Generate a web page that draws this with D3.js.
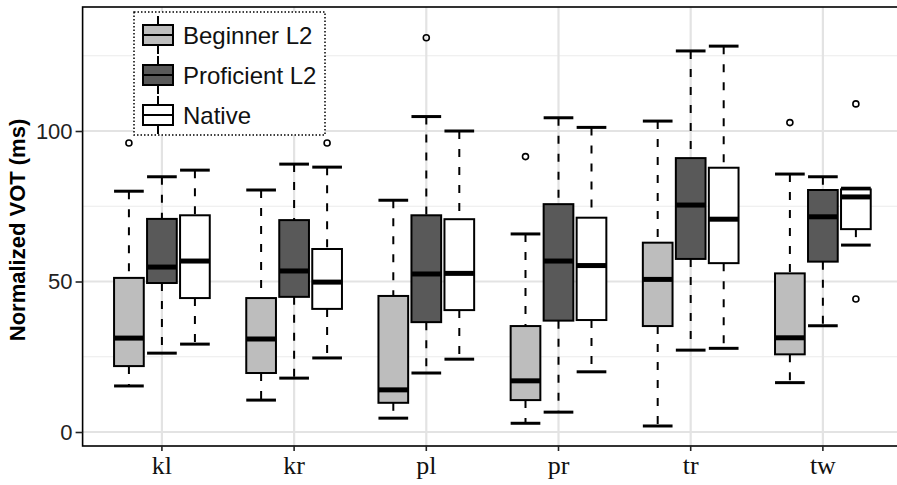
<!DOCTYPE html>
<html><head><meta charset="utf-8">
<script src="https://cdn.jsdelivr.net/npm/d3@7"></script>
<style>body{margin:0;background:#fff}svg{display:block}</style>
</head><body><svg id="c" width="897" height="485"></svg>
<script>
const categories = ["kl","kr","pl","pr","tr","tw"];
const groups = ["Beginner L2","Proficient L2","Native"];
// [lower whisker, Q1, median, Q3, upper whisker] per category
const beginnerStats   = [[15.3,21.9,31.2,51.2,80.0],[10.6,19.6,30.9,44.5,80.4],[4.6,9.7,14.0,45.2,77.0],[2.9,10.6,17.0,35.2,65.8],[2.0,35.2,50.7,62.9,103.3],[16.4,25.8,31.3,52.7,85.7]];
const proficientStats = [[26.2,49.5,54.8,70.8,84.8],[17.9,44.9,53.5,70.4,89.0],[19.6,36.5,52.5,72.0,104.8],[6.6,37.0,56.8,75.7,104.4],[27.2,57.5,75.4,91.0,126.6],[35.3,56.6,71.5,80.4,84.8]];
const nativeStats     = [[29.2,44.5,56.8,72.0,87.0],[24.6,40.9,49.8,60.8,88.0],[24.2,40.5,52.7,70.7,100.0],[20.0,37.2,55.3,71.2,101.2],[27.8,56.1,70.7,87.8,128.2],[62.1,67.4,78.1,80.6,81.0]];
const beginnerOutliers   = [[96],[],[],[91.5],[],[102.8]];
const proficientOutliers = [[],[],[131],[],[],[]];
const nativeOutliers     = [[],[96],[],[],[],[109,44.2]];
const yTicks = [0,50,100];
const yMinor = [25,75,125];
const fills = ["#bdbdbd","#595959","#ffffff"];

const stats = [beginnerStats, proficientStats, nativeStats];
const outs = [beginnerOutliers, proficientOutliers, nativeOutliers];

const L = 82.6, R = 902.2, T = 7, B = 446;
const svg = d3.select("#c");
const x = d3.scaleBand().domain(categories).range([L, R]).paddingInner(0).paddingOuter(0.1);
const xg = d3.scaleBand().domain(groups).range([-49.5, 49.5]).paddingInner(0.1).paddingOuter(0.05);
const y = d3.scaleLinear().domain([-4.65, 141.2]).range([B, T]);
const cx = c => x(c) + x.bandwidth()/2;

// grid
const grid = svg.append("g");
grid.selectAll(".mn").data(yMinor).join("line").attr("x1",L).attr("x2",R)
  .attr("y1",d=>y(d)).attr("y2",d=>y(d)).attr("stroke","#ebebeb").attr("stroke-width",1.2);
grid.selectAll(".mj").data(yTicks).join("line").attr("x1",L).attr("x2",R)
  .attr("y1",d=>y(d)).attr("y2",d=>y(d)).attr("stroke","#e3e3e3").attr("stroke-width",2.2);
grid.selectAll(".vx").data(categories).join("line").attr("y1",T).attr("y2",B)
  .attr("x1",d=>cx(d)).attr("x2",d=>cx(d)).attr("stroke","#e3e3e3").attr("stroke-width",2.2);

// boxes
const bw = xg.bandwidth();
groups.forEach((g, gi) => {
  categories.forEach((c, ci) => {
    const [lo,q1,md,q3,hi] = stats[gi][ci];
    const xc = cx(c) + xg(g) + bw/2;
    const gg = svg.append("g");
    gg.append("line").attr("x1",xc).attr("x2",xc).attr("y1",y(hi)).attr("y2",y(q3))
      .attr("stroke","#000").attr("stroke-width",2).attr("stroke-dasharray","8,10");
    gg.append("line").attr("x1",xc).attr("x2",xc).attr("y1",y(q1)).attr("y2",y(lo))
      .attr("stroke","#000").attr("stroke-width",2).attr("stroke-dasharray","8,10");
    [hi, lo].forEach(v => gg.append("line").attr("x1",xc-bw/2).attr("x2",xc+bw/2)
      .attr("y1",y(v)).attr("y2",y(v)).attr("stroke","#000").attr("stroke-width",3));
    gg.append("rect").attr("x",xc-bw/2).attr("width",bw).attr("y",y(q3)).attr("height",y(q1)-y(q3))
      .attr("fill",fills[gi]).attr("stroke","#000").attr("stroke-width",2);
    gg.append("line").attr("x1",xc-bw/2).attr("x2",xc+bw/2).attr("y1",y(md)).attr("y2",y(md))
      .attr("stroke","#000").attr("stroke-width",5);
    outs[gi][ci].forEach(v => gg.append("circle").attr("cx",xc).attr("cy",y(v)).attr("r",3)
      .attr("fill","none").attr("stroke","#000").attr("stroke-width",1.6));
  });
});

// panel border
svg.append("rect").attr("x",L).attr("y",T).attr("width",R-L).attr("height",B-T)
  .attr("fill","none").attr("stroke","#000").attr("stroke-width",1.6);

// y axis
const ya = svg.append("g").attr("transform",`translate(${L},0)`)
  .call(d3.axisLeft(y).tickValues(yTicks).tickSize(7).tickPadding(3));
ya.select(".domain").remove();
ya.selectAll(".tick line").attr("stroke","#222").attr("stroke-width",1.6);
ya.selectAll(".tick text").attr("font-family","Liberation Sans, Arial, sans-serif").attr("font-size",22).attr("fill","#222");

// x axis
const xa = svg.append("g").attr("transform",`translate(0,${B})`)
  .call(d3.axisBottom(x).tickSize(5).tickPadding(5));
xa.select(".domain").remove();
xa.selectAll(".tick line").attr("stroke","#222").attr("stroke-width",1.6);
xa.selectAll(".tick text").attr("font-family","Liberation Serif, Times New Roman, serif").attr("font-size",26).attr("fill","#111");

// y title
svg.append("text").attr("transform",`translate(25,230) rotate(-90)`)
  .attr("text-anchor","middle").attr("font-family","Liberation Sans, Arial, sans-serif")
  .attr("font-weight","bold").attr("font-size",22).attr("fill","#000").text("Normalized VOT (ms)");

// legend
const lg = svg.append("g");
lg.append("rect").attr("x",134).attr("y",12).attr("width",191).attr("height",123)
  .attr("fill","#fff").attr("stroke","#000").attr("stroke-width",1.5).attr("stroke-dasharray","1.5,2");
const ly = d3.scalePoint().domain(groups).range([35,115]);
groups.forEach((g, gi) => {
  const cy = ly(g), kx = 158;
  lg.append("line").attr("x1",kx).attr("x2",kx).attr("y1",cy-19).attr("y2",cy+19).attr("stroke","#000").attr("stroke-width",2);
  lg.append("rect").attr("x",kx-15).attr("y",cy-10).attr("width",30).attr("height",20)
    .attr("fill",fills[gi]).attr("stroke","#000").attr("stroke-width",2);
  lg.append("line").attr("x1",kx-15).attr("x2",kx+15).attr("y1",cy).attr("y2",cy).attr("stroke","#000").attr("stroke-width",2);
  lg.append("text").attr("x",183).attr("y",cy).attr("dy","0.36em")
    .attr("font-family","Liberation Sans, Arial, sans-serif").attr("font-size",24).attr("fill","#111").text(g);
});
</script></body></html>
